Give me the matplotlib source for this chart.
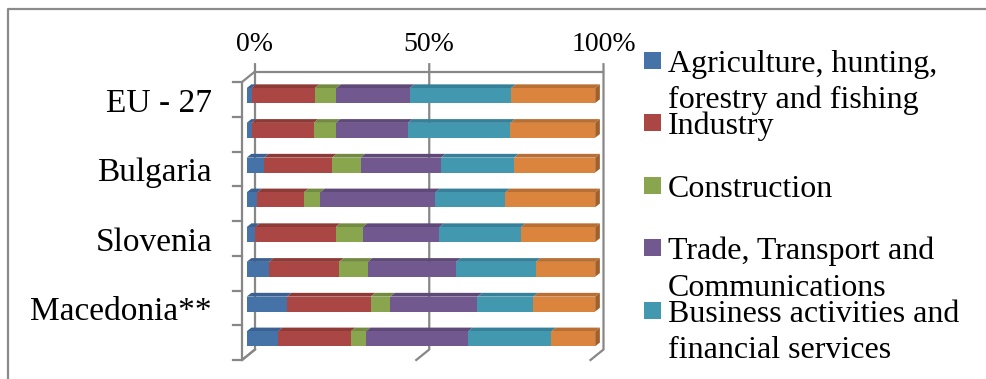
import matplotlib.pyplot as plt
from matplotlib.patches import Polygon, Rectangle
from matplotlib.lines import Line2D

plt.rcParams['font.family'] = ['Liberation Serif', 'DejaVu Serif']

# Shares of gross value added by sector (%), one entry per bar, top to bottom
categories = ["EU - 27", "", "Bulgaria", "", "Slovenia", "", "Macedonia**", ""]
agriculture = [1.4, 1.4, 5.0, 3.1, 2.4, 6.4, 11.5, 9.0]
industry = [18.1, 17.8, 19.5, 13.3, 23.1, 20.1, 24.0, 20.9]
construction = [6.2, 6.3, 8.2, 4.7, 7.8, 8.2, 5.6, 4.3]
trade = [21.0, 20.7, 23.1, 33.1, 22.0, 25.4, 25.0, 29.4]
business = [29.1, 29.4, 21.0, 20.1, 23.4, 22.9, 16.0, 23.9]
other = [24.1, 24.3, 23.3, 25.8, 21.3, 17.0, 17.7, 12.6]

series = [agriculture, industry, construction, trade, business, other]
legend_names = [["Agriculture, hunting,", "forestry and fishing"], ["Industry"], ["Construction"],
                ["Trade, Transport and", "Communications"],
                ["Business activities and", "financial services"]]
x_ticks = [0, 50, 100]
x_labels = ["0%", "50%", "100%"]

front_colors = ['#4572A7', '#AA4643', '#89A54E', '#71588F', '#4198AF', '#DB843D']
top_colors = ['#3A6192', '#8E3A37', '#738B41', '#5E4978', '#36809A', '#B96E33']
side_colors = ['#30507A', '#77302E', '#607436', '#4E3D64', '#2D6B7F', '#A0602B']
GRID = '#878787'

W, H = 987, 379
# 3-D depth of the plot box in data units (x in %, y in categories)
DX, DY = 3.73, -0.302
F0, F1 = 0.36, 0.72     # front/back depth of the bars
BAR_H = 0.43


def proj(x, y, f):
    return x + f * DX, y + f * DY


fig = plt.figure(figsize=(W / 100, H / 100), dpi=100)
ax = fig.add_axes([242 / W, 19 / H, 348.5 / W, 278 / H])
ax.set_xlim(0, 100)
ax.set_ylim(len(categories), 0)
ax.axis('off')

n = len(categories)
lw = 1.6

# back wall gridlines with small ticks on top, plus floor diagonals
for xt, lab in zip(x_ticks, x_labels):
    bx, by_top = proj(xt, 0, 1)
    _, by_bot = proj(xt, n, 1)
    ax.plot([bx, bx, xt], [by_top - 0.21, by_bot, n], color=GRID, lw=lw,
            clip_on=False, zorder=1, solid_joinstyle='miter')
    ax.text(bx, by_top - 0.59, lab, ha='center', va='baseline', fontsize=20)

# top edge of back wall
ax.plot([proj(0, 0, 1)[0], proj(100, 0, 1)[0]], [DY, DY], color=GRID, lw=lw,
        clip_on=False, zorder=1)
# side wall: front axis and its diagonals
ax.plot([DX, 0, 0, DX], [DY, 0, n, n + DY], color=GRID, lw=lw, clip_on=False, zorder=1)
for k in range(n + 1):
    ax.plot([-2.6, 0], [k, k], color=GRID, lw=lw, clip_on=False, zorder=1)

# stacked 3-D bars
for i in range(n):
    total = sum(s[i] for s in series)
    left = 0.0
    yc = i + 0.5
    yt, yb = yc - BAR_H / 2, yc + BAR_H / 2
    for j, s in enumerate(series):
        w = s[i] / total * 100
        fx, fy = proj(left, yc, F0)
        ax.barh(fy, w, left=fx, height=BAR_H, color=front_colors[j], zorder=3,
                clip_on=False)
        top = [proj(left, yt, F0), proj(left + w, yt, F0),
               proj(left + w, yt, F1), proj(left, yt, F1)]
        ax.add_patch(Polygon(top, closed=True, facecolor=top_colors[j],
                             edgecolor='none', zorder=2, clip_on=False))
        left += w
    side = [proj(100, yt, F0), proj(100, yb, F0), proj(100, yb, F1), proj(100, yt, F1)]
    ax.add_patch(Polygon(side, closed=True, facecolor=side_colors[-1],
                         edgecolor='none', zorder=2, clip_on=False))

# category labels
for i, name in enumerate(categories):
    if name:
        ax.text(-8.6, i + 0.5 + 0.36, name, ha='right', va='baseline', fontsize=24)

# legend, marker aligned with the first line of each entry
for k, lines in enumerate(legend_names):
    base = 71.7 + k * 62.5
    fig.add_artist(Rectangle((644 / W, 1 - (base - 3) / H), 17 / W, 17 / H,
                             transform=fig.transFigure, facecolor=front_colors[k],
                             edgecolor='none'))
    for m, line in enumerate(lines):
        fig.text(668 / W, 1 - (base + m * 36.7) / H, line, ha='left', va='baseline',
                 fontsize=23)

# chart area frame (top and left edges)
fig.add_artist(Line2D([8 / W, 8 / W, 1.0], [0.0, 1 - 9 / H, 1 - 9 / H],
                      transform=fig.transFigure, color='#8a8a8a', lw=1.6))

fig.savefig('out.png', dpi=100)
